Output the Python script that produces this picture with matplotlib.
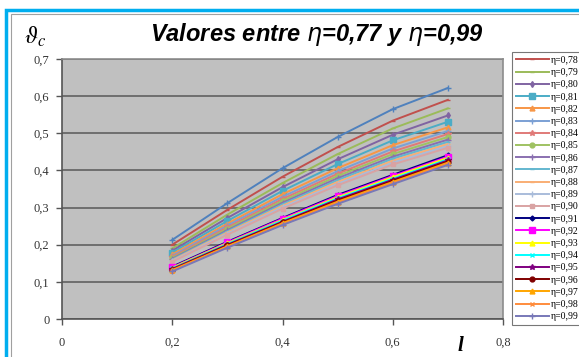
import matplotlib.pyplot as plt
from matplotlib.patches import Rectangle

# datos
l_vals = [0.2, 0.3, 0.4, 0.5, 0.6, 0.7]

eta_labels = ['0,77', '0,78', '0,79', '0,80', '0,81', '0,82', '0,83', '0,84',
              '0,85', '0,86', '0,87', '0,88', '0,89', '0,90', '0,91', '0,92',
              '0,93', '0,94', '0,95', '0,96', '0,97', '0,98', '0,99']

s077 = [0.213, 0.312, 0.406, 0.490, 0.565, 0.622]
s078 = [0.200, 0.294, 0.383, 0.463, 0.534, 0.590]
s079 = [0.190, 0.281, 0.366, 0.444, 0.513, 0.567]
s080 = [0.184, 0.272, 0.355, 0.430, 0.496, 0.548]
s081 = [0.179, 0.264, 0.345, 0.417, 0.481, 0.531]
s082 = [0.174, 0.257, 0.336, 0.406, 0.468, 0.516]
s083 = [0.170, 0.252, 0.329, 0.398, 0.459, 0.506]
s084 = [0.167, 0.247, 0.323, 0.391, 0.451, 0.498]
s085 = [0.164, 0.243, 0.318, 0.385, 0.444, 0.490]
s086 = [0.162, 0.239, 0.313, 0.379, 0.437, 0.483]
s087 = [0.160, 0.236, 0.309, 0.374, 0.432, 0.477]
s088 = [0.158, 0.233, 0.305, 0.369, 0.426, 0.471]
s089 = [0.156, 0.230, 0.301, 0.364, 0.421, 0.466]
s090 = [0.154, 0.227, 0.297, 0.360, 0.416, 0.461]
s091 = [0.141, 0.208, 0.272, 0.334, 0.388, 0.441]
s092 = [0.139, 0.206, 0.270, 0.331, 0.385, 0.437]
s093 = [0.138, 0.204, 0.267, 0.328, 0.382, 0.434]
s094 = [0.136, 0.202, 0.265, 0.325, 0.378, 0.430]
s095 = [0.135, 0.200, 0.262, 0.322, 0.375, 0.427]
s096 = [0.133, 0.198, 0.260, 0.319, 0.372, 0.424]
s097 = [0.132, 0.196, 0.258, 0.316, 0.369, 0.421]
s098 = [0.130, 0.194, 0.255, 0.313, 0.366, 0.418]
s099 = [0.128, 0.192, 0.253, 0.310, 0.363, 0.415]

series = [s077, s078, s079, s080, s081, s082, s083, s084, s085, s086, s087, s088,
          s089, s090, s091, s092, s093, s094, s095, s096, s097, s098, s099]

colores = ['#4F81BD', '#C0504D', '#9BBB59', '#8064A2', '#4BACC6', '#F79646',
           '#7BA0D4', '#E07A78', '#9FC262', '#8A70B0', '#63B7CF', '#F9AE74',
           '#A9BCDA', '#D9A3A3', '#000080', '#FF00FF', '#FFFF00', '#00FFFF',
           '#800080', '#800000', '#FFA500', '#FF8C3C', '#7878B8']
marcas = ['+', '_', '_', 'd', 's', '^', '+', '*', 'o', '+', '_', '_',
          '+', 's', 'D', 's', '^', 'x', '*', 'o', '^', 'x', '+']
tam = [5, 3, 3, 3, 4.5, 3.5, 4, 4, 3.5, 4, 3, 3, 4, 3.5, 2.5, 4.5, 3.5, 3.5, 4, 3.5, 3.5, 3.5, 4]

fig = plt.figure(figsize=(5.79, 3.57), dpi=100)
fig.patch.set_facecolor('white')

# marco azul exterior
fig.add_artist(Rectangle((6/579, -0.05), 1.0, 1.05 - 10/357, transform=fig.transFigure,
                         fill=False, edgecolor='#00AEEF', linewidth=2.5))
fig.add_artist(Rectangle((11/579, -0.05), 1.0, 1.05 - 14/357, transform=fig.transFigure,
                         fill=False, edgecolor='#A0A0A0', linewidth=0.8))

ax = fig.add_axes([62/579, 38/357, 441/579, 260/357])
ax.set_facecolor('#C0C0C0')

for i in range(len(series)):
    lab = '\u03b7=' + eta_labels[i] if i > 0 else '_nolegend_'
    ax.plot(l_vals, series[i], color=colores[i], marker=marcas[i],
            markersize=tam[i], linewidth=1.4, label=lab, zorder=3 + i * 0.01)

ax.set_xlim(0, 0.8)
ax.set_ylim(0, 0.7)
ax.set_xticks([0, 0.2, 0.4, 0.6, 0.8])
ax.set_xticklabels(['0', '0,2', '0,4', '0,6', '0,8'])
ax.set_yticks([0, 0.1, 0.2, 0.3, 0.4, 0.5, 0.6, 0.7])
ax.set_yticklabels(['0', '0,1', '0,2', '0,3', '0,4', '0,5', '0,6', '0,7'])
ax.yaxis.grid(True, color='#6E6E6E', linewidth=1.4, zorder=1)
ax.set_axisbelow(True)
for t in ax.get_xticklabels() + ax.get_yticklabels():
    t.set_fontfamily('Liberation Serif')
    t.set_fontsize(9)
    t.set_color('#333333')
ax.tick_params(axis='both', length=4, color='#555555', width=1, pad=5)
ax.tick_params(axis='x', pad=9)
for s in ['top', 'right']:
    ax.spines[s].set_color('#8C8C8C')
    ax.spines[s].set_linewidth(1.2)
for s in ['left', 'bottom']:
    ax.spines[s].set_color('#555555')
    ax.spines[s].set_linewidth(1.2)

# titulo
fig.text(317/579, 1 - 34/357, 'Valores entre $\\eta$=0,77 y $\\eta$=0,99',
         ha='center', va='center', fontsize=17, fontweight='bold',
         fontstyle='italic', family='Liberation Sans')
fig.text(35/579, 1 - 37/357, '$\\vartheta_c$', ha='center', va='center',
         fontsize=17, math_fontfamily='stix')
fig.text(460/579, 1 - 346/357, 'l', ha='center', va='center', fontsize=15,
         fontweight='bold', fontstyle='italic', family='Liberation Serif')

leg = ax.legend(loc='upper left', bbox_to_anchor=(450/441, 1 + 7/260),
                bbox_transform=ax.transAxes, prop={'family': 'Liberation Serif', 'size': 7},
                frameon=True, fancybox=False, borderpad=0.4, labelspacing=0.33,
                handlelength=3.4, handletextpad=0.2, borderaxespad=0)
leg.get_frame().set_edgecolor('#555555')
leg.get_frame().set_linewidth(0.8)

fig.savefig('out.png', dpi=100)
